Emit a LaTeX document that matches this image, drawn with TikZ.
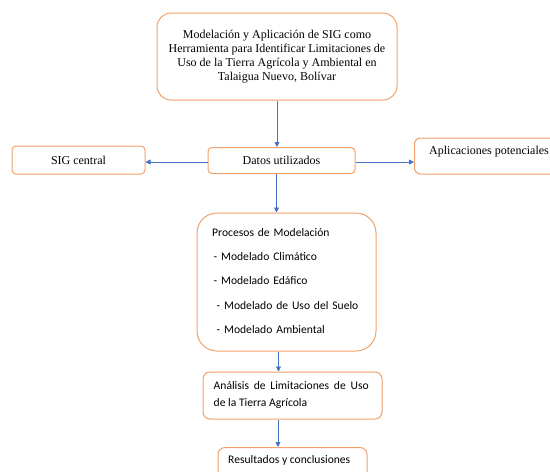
\documentclass[tikz,border=0pt]{standalone}
\usepackage{fontspec}
\setmainfont{Liberation Serif}
\newfontfamily\calfont{Carlito}
\usetikzlibrary{arrows.meta}
\definecolor{boxorange}{RGB}{242,162,105}
\definecolor{arrblue}{RGB}{68,114,196}
\tikzset{
  ob/.style={draw=boxorange, line width=1pt, fill=white, inner sep=0pt},
  serif12/.style={font=\fontsize{12}{13.8}\selectfont},
  cal/.style={font=\calfont\fontsize{11.6}{14}\selectfont},
  arr/.style={draw=arrblue, line width=0.9pt, -{Triangle[length=5pt,width=5pt]}}
}
\begin{document}
\begin{tikzpicture}[x=1pt,y=-1pt]
\useasboundingbox (0,0) rectangle (550,472);
% top box
\node[ob, serif12, rounded corners=14pt, minimum width=240pt, minimum height=87pt, align=center]
  (top) at (277,56.5) {Modelación y Aplicación de SIG como\\Herramienta para Identificar Limitaciones de\\Uso de la Tierra Agrícola y Ambiental en\\Talaigua Nuevo, Bolívar};
% datos
\node[ob, serif12, rounded corners=4pt, minimum width=147pt, minimum height=26pt]
  (datos) at (281.5,160.5) {Datos utilizados};
% SIG central
\node[ob, serif12, rounded corners=4pt, minimum width=133pt, minimum height=28pt]
  (sig) at (78.5,160) {SIG central};
% aplicaciones
\node[ob, serif12, rounded corners=6pt, minimum width=150pt, minimum height=36pt, anchor=west]
  (apl) at (414,156) {};
\node[serif12, anchor=west, inner sep=0pt] (apltext) at (429,151.5) {Aplicaciones potenciales};
% procesos
\node[ob, rounded corners=20pt, minimum width=179pt, minimum height=138pt]
  (proc) at (286.5,282) {};
\node[align=left, text width=149pt, inner sep=0pt, anchor=north west,
  font=\calfont\fontsize{11.6}{24.3}\selectfont]
  (proctext) at (212,228) {%
  Procesos de Modelación\\
  \hspace*{1.5pt}- Modelado Climático\\
  \hspace*{1.5pt}- Modelado Edáfico\\
  \hspace*{4.5pt}- Modelado de Uso del Suelo\\
  \hspace*{4.5pt}- Modelado Ambiental};
% analisis
\node[ob, rounded corners=7pt, minimum width=179pt, minimum height=47pt]
  (anal) at (292.5,395.5) {};
\node[text width=155pt, align=justify, inner sep=0pt, anchor=north west,
  font=\calfont\fontsize{11.6}{17}\selectfont]
  (analtext) at (213.5,381.5) {Análisis de Limitaciones de Uso de la Tierra Agrícola};
% resultados
\node[ob, rounded corners=7pt, minimum width=149pt, minimum height=40pt, anchor=north]
  (res) at (292.5,447) {};
\node[cal, anchor=west, inner sep=0pt] (restext) at (228,460) {Resultados y conclusiones};
% spine coordinate
\coordinate (sp) at (276.5,0);
% arrows
\draw[arr] (top.south) -- (top.south |- datos.north);
\draw[arr] (datos.west |- 0,162) -- (sig.east |- 0,162);
\draw[arr] (datos.east |- 0,162) -- (apl.west |- 0,162);
\draw[arr] (sp |- datos.south) -- (sp |- proc.north);
\draw[arr] ([xshift=2pt]sp |- proc.south) -- ([xshift=2pt]sp |- anal.north);
\draw[arr] ([xshift=1.5pt]sp |- anal.south) -- ([xshift=1.5pt]sp |- res.north);
\end{tikzpicture}
\end{document}
